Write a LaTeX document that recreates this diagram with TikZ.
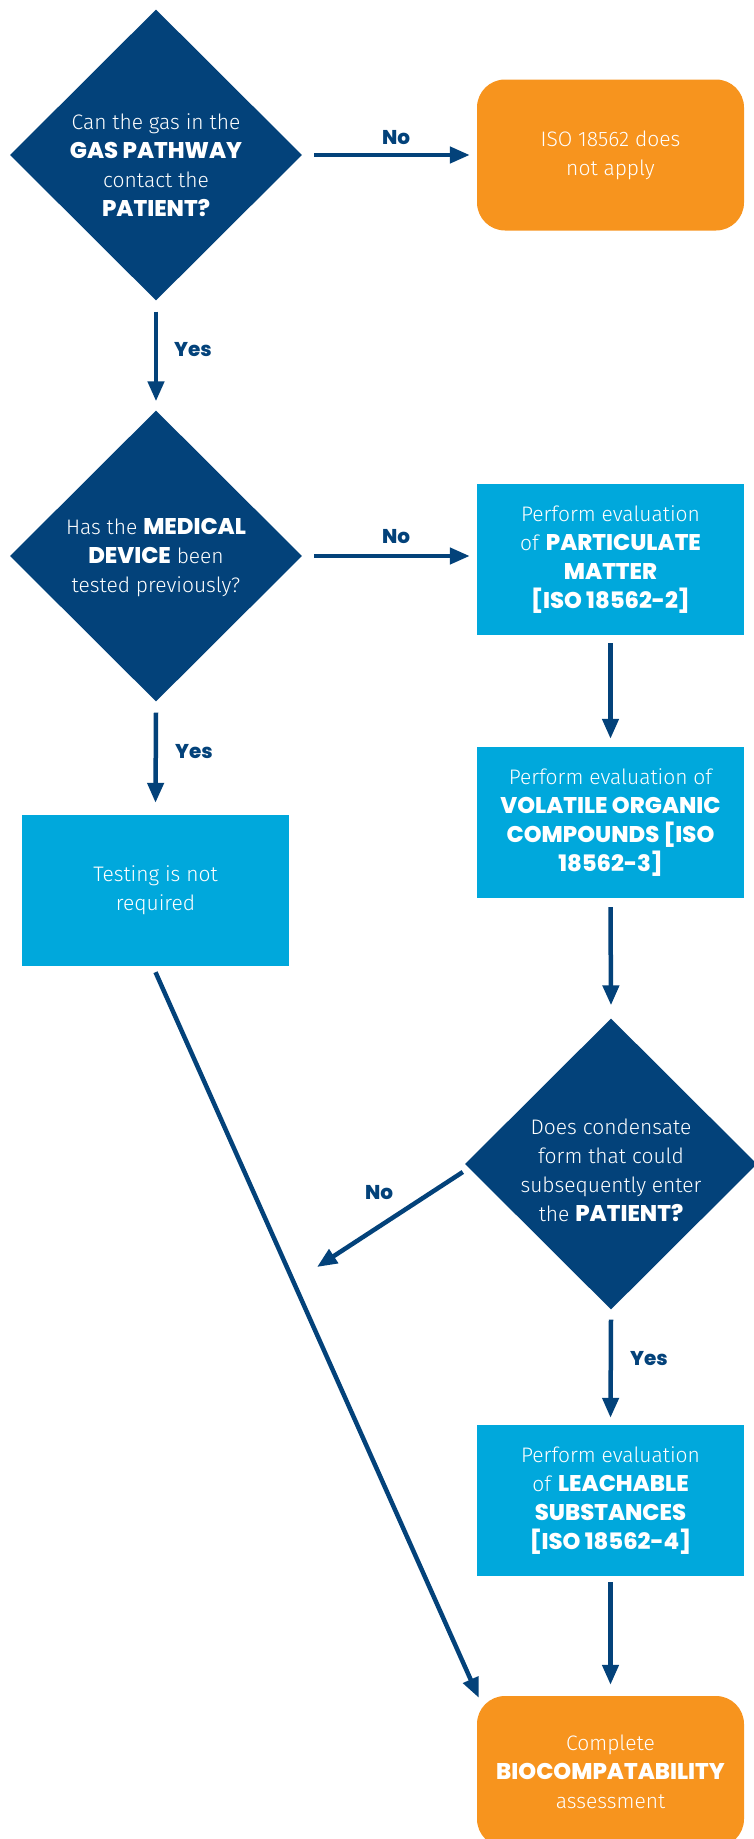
\documentclass[tikz,border=0pt]{standalone}
\usepackage{fontspec}
\setmainfont{Fira Sans Light}[BoldFont={Poppins ExtraBold},BoldFeatures={Scale=1.08}]
\usetikzlibrary{shapes.geometric,arrows.meta}
\definecolor{navy}{HTML}{03427A}
\definecolor{sky}{HTML}{00A8DC}
\definecolor{orng}{HTML}{F7941E}
\begin{document}
\begin{tikzpicture}[x=1pt,y=-1pt,
  dec/.style={diamond, fill=navy, minimum width=292pt, minimum height=291pt, inner sep=0pt},
  txt/.style={text=white, align=center, font=\fontsize{21}{29}\selectfont, inner sep=0pt},
  proc/.style={rectangle, fill=sky, minimum width=267pt, minimum height=151pt, inner sep=0pt, txt},
  term/.style={rectangle, rounded corners=28pt, fill=orng, minimum width=267pt, minimum height=151pt, inner sep=0pt, txt},
  arr/.style={draw=navy, line width=4.5pt, -{Triangle[length=20pt,width=16pt]}},
  lab/.style={text=navy, font=\bfseries\fontsize{18.5}{25}\selectfont, inner sep=0pt}]
\useasboundingbox (0,0) rectangle (753,1839);
% decisions
\node[dec] (d1) at (156,155) {};
\node[txt] (q1) at (156,165) {Can the gas in the\\\textbf{GAS PATHWAY}\\contact the\\\textbf{PATIENT?}};
\node[dec] (d2) at (156,556) {};
\node[txt] (q2) at (156,558) {Has the \textbf{MEDICAL}\\\textbf{DEVICE} been\\tested previously?};
\node[dec] (d3) at (611,1164) {};
\node[txt] (q3) at (611,1170) {Does condensate\\form that could\\subsequently enter\\the \textbf{PATIENT?}};
% boxes
\node[term] (o1) at (610.5,155) {ISO 18562 does\\not apply};
\node[proc] (p1) at (610.5,559.5) {Perform evaluation\\of \textbf{PARTICULATE}\\\textbf{MATTER}\\\textbf{[ISO 18562-2]}};
\node[proc] (v1) at (610.5,822.5) {Perform evaluation of\\\textbf{VOLATILE ORGANIC}\\\textbf{COMPOUNDS [ISO}\\\textbf{18562-3]}};
\node[proc] (t1) at (155.5,890.5) {Testing is not\\required};
\node[proc] (l1) at (610.5,1500.5) {Perform evaluation\\of \textbf{LEACHABLE}\\\textbf{SUBSTANCES}\\\textbf{[ISO 18562-4]}};
\node[term] (f1) at (610.5,1771.5) {Complete\\\textbf{BIOCOMPATABILITY}\\assessment};
% connectors
\draw[arr] ([xshift=12pt]d1.east) -- ([xshift=-7pt]o1.west);
\node[lab] (n1) at (396,138) {No};
\draw[arr] ([yshift=-11pt]d1.south) -- ([yshift=9pt]d2.north);
\node[lab] (y1) at (193,350) {Yes};
\draw[arr] ([xshift=12pt]d2.east) -- ([xshift=-7pt]d2.east -| p1.west);
\node[lab] (n2) at (396,537) {No};
\draw[arr] ([yshift=-11pt]d2.south) -- ([yshift=12pt]t1.north);
\node[lab] (y2) at (194,752) {Yes};
\draw[arr] ([yshift=-8pt]p1.south) -- ([yshift=8pt]v1.north);
\draw[arr] ([yshift=-9pt]v1.south) -- ([yshift=13pt]d3.north);
\coordinate (nend) at (317,1267);
\draw[arr] ([shift={(-2pt,-8pt)}]d3.west) -- (nend);
\node[lab] (n3) at (379,1193) {No};
\draw[arr] ([yshift=-10pt]d3.south) -- ([yshift=7pt]l1.north);
\node[lab] (y3) at (649,1359) {Yes};
\draw[arr] ([yshift=-6pt]l1.south) -- ([yshift=11pt]f1.north);
\draw[arr] ([yshift=-6pt]t1.south) -- ([shift={(2pt,-2pt)}]f1.north west);
\end{tikzpicture}
\end{document}
